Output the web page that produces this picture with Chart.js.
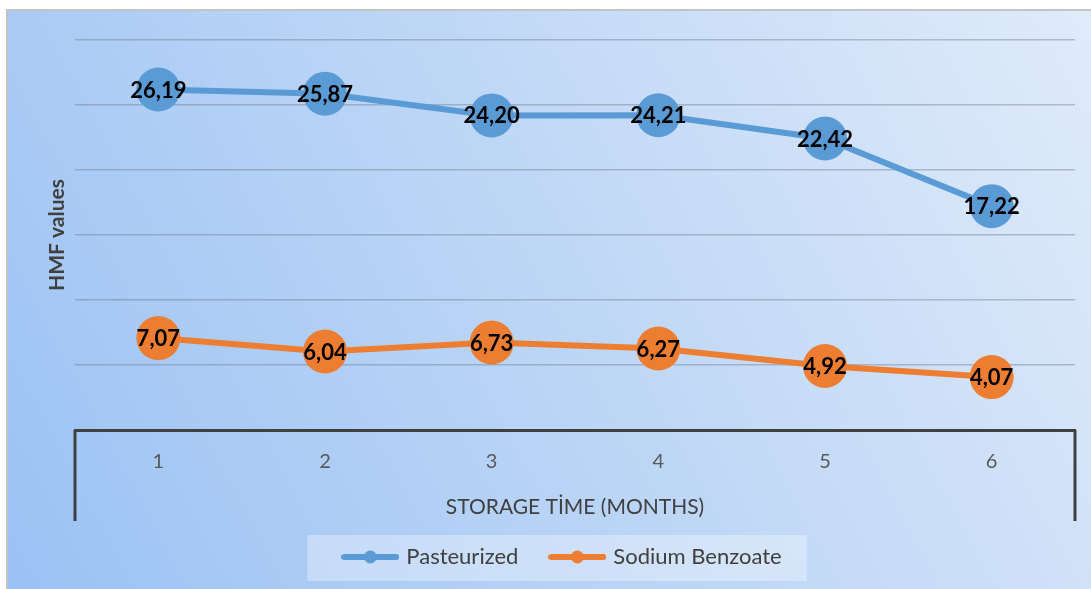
<!DOCTYPE html>
<html>
<head>
<meta charset="utf-8">
<script src="https://cdn.jsdelivr.net/npm/chart.js@4/dist/chart.umd.min.js"></script>
<style>
  html, body { margin: 0; padding: 0; background: #fff; }
  #wrap { width: 1091px; height: 589px; }
</style>
</head>
<body>
<div id="wrap"><canvas id="chart" width="1091" height="589"></canvas></div>
<script>
const months = ["1", "2", "3", "4", "5", "6"];
const pasteurized = [26.19, 25.87, 24.20, 24.21, 22.42, 17.22];
const sodiumBenzoate = [7.07, 6.04, 6.73, 6.27, 4.92, 4.07];
const seriesNames = ["Pasteurized", "Sodium Benzoate"];
const seriesColors = ["#5b9bd5", "#ed7d31"];

const FONT = "Lato, 'Open Sans', sans-serif";

// legend marker: a short line with a dot, like the office style
const makeMarker = (color) => {
  const c = document.createElement("canvas");
  c.width = 58;
  c.height = 14;
  const ctx = c.getContext("2d");
  ctx.strokeStyle = color;
  ctx.lineWidth = 6;
  ctx.lineCap = "round";
  ctx.beginPath();
  ctx.moveTo(3, 7);
  ctx.lineTo(55, 7);
  ctx.stroke();
  ctx.fillStyle = color;
  ctx.beginPath();
  ctx.arc(29, 7, 6.5, 0, Math.PI * 2);
  ctx.fill();
  return c;
};
const markers = seriesColors.map(makeMarker);

const backgroundPlugin = {
  id: "background",
  afterLayout(chart) {
    // nudge the legend a bit to the right, as in the original
    if (chart.legend) {
      chart.legend.left += 22;
      chart.legend.right += 22;
    }
  },
  beforeDraw(chart) {
    const { ctx, width, height } = chart;
    ctx.save();
    ctx.fillStyle = "#ffffff";
    ctx.fillRect(0, 0, width, height);
    const g = ctx.createLinearGradient(8, height, width, 11);
    g.addColorStop(0, "#9bc2f4");
    g.addColorStop(0.5, "#bdd6f6");
    g.addColorStop(1, "#e0ebfa");
    ctx.fillStyle = g;
    ctx.fillRect(8, 11, width - 8, height - 11);
    ctx.strokeStyle = "#c4c4c4";
    ctx.lineWidth = 2;
    ctx.beginPath();
    ctx.moveTo(7, height);
    ctx.lineTo(7, 10);
    ctx.lineTo(width, 10);
    ctx.stroke();

    // legend backdrop
    const boxes = chart.legend && chart.legend.legendHitBoxes;
    if (boxes && boxes.length) {
      const first = boxes[0];
      const last = boxes[boxes.length - 1];
      const cy = first.top + first.height / 2;
      const x0 = first.left - 38;
      const x1 = last.left + last.width + 25;
      ctx.fillStyle = "rgba(255,255,255,0.32)";
      ctx.fillRect(x0, cy - 22, x1 - x0, 46);
    }
    ctx.restore();
  },
};

const axisFramePlugin = {
  id: "axisFrame",
  afterDraw(chart) {
    const { ctx, chartArea } = chart;
    ctx.save();
    ctx.strokeStyle = "#404040";
    ctx.lineWidth = 3;
    ctx.beginPath();
    ctx.moveTo(chartArea.left, chartArea.bottom);
    ctx.lineTo(chartArea.left, 521);
    ctx.moveTo(chartArea.right, chartArea.bottom);
    ctx.lineTo(chartArea.right, 521);
    ctx.stroke();
    ctx.restore();
  },
};

const valueLabelPlugin = {
  id: "valueLabels",
  afterDatasetsDraw(chart) {
    const { ctx } = chart;
    ctx.save();
    ctx.font = "bold 22px " + FONT;
    ctx.fillStyle = "#000000";
    ctx.textAlign = "center";
    ctx.textBaseline = "middle";
    chart.data.datasets.forEach((ds, i) => {
      const meta = chart.getDatasetMeta(i);
      meta.data.forEach((pt, j) => {
        const txt = ds.data[j].toFixed(2).replace(".", ",");
        ctx.fillText(txt, pt.x, pt.y + 1);
      });
    });
    ctx.restore();
  },
};

const makeDataset = (label, data, color) => ({
  label,
  data,
  borderColor: color,
  backgroundColor: color,
  borderWidth: 6,
  pointRadius: 22,
  pointHoverRadius: 22,
  pointBackgroundColor: color,
  pointBorderColor: color,
  pointBorderWidth: 0,
  tension: 0,
});

new Chart(document.getElementById("chart"), {
  type: "line",
  data: {
    labels: months,
    datasets: [
      makeDataset(seriesNames[0], pasteurized, seriesColors[0]),
      makeDataset(seriesNames[1], sodiumBenzoate, seriesColors[1]),
    ],
  },
  options: {
    responsive: false,
    animation: false,
    layout: { autoPadding: false, padding: { left: 8, top: 40, right: 16, bottom: 11 } },
    plugins: {
      tooltip: { enabled: false },
      legend: {
        position: "bottom",
        labels: {
          usePointStyle: true,
          pointStyleWidth: 50,
          boxHeight: 12,
          padding: 34,
          color: "#404040",
          font: { family: FONT, size: 22 },
          generateLabels: (chart) =>
            chart.data.datasets.map((ds, i) => ({
              text: ds.label,
              pointStyle: markers[i],
              fillStyle: ds.borderColor,
              strokeStyle: ds.borderColor,
              lineWidth: 0,
              fontColor: "#404040",
              datasetIndex: i,
              hidden: false,
            })),
        },
      },
    },
    scales: {
      x: {
        offset: true,
        grid: { display: false, drawTicks: false },
        border: { display: true, color: "#404040", width: 3 },
        ticks: {
          padding: 20,
          color: "#595959",
          font: { family: FONT, size: 20 },
        },
        title: {
          display: true,
          text: "STORAGE TİME (MONTHS)",
          color: "#404040",
          font: { family: FONT, size: 21 },
          padding: { top: 0, bottom: -8 },
        },
        afterFit: (s) => {
          s.height = 82;
          s.paddingLeft = 0;
          s.paddingRight = 0;
        },
      },
      y: {
        min: 0,
        max: 30,
        ticks: { display: false, stepSize: 5 },
        grid: { color: "rgba(105,115,130,0.4)", lineWidth: 1.5, drawTicks: false },
        border: { display: false },
        title: {
          display: true,
          text: "HMF values",
          color: "#404040",
          font: { family: FONT, size: 21, weight: "bold" },
          padding: { top: 37, bottom: 0 },
        },
        afterFit: (s) => { s.width = 67; },
      },
    },
  },
  plugins: [backgroundPlugin, axisFramePlugin, valueLabelPlugin],
});
</script>
</body>
</html>
